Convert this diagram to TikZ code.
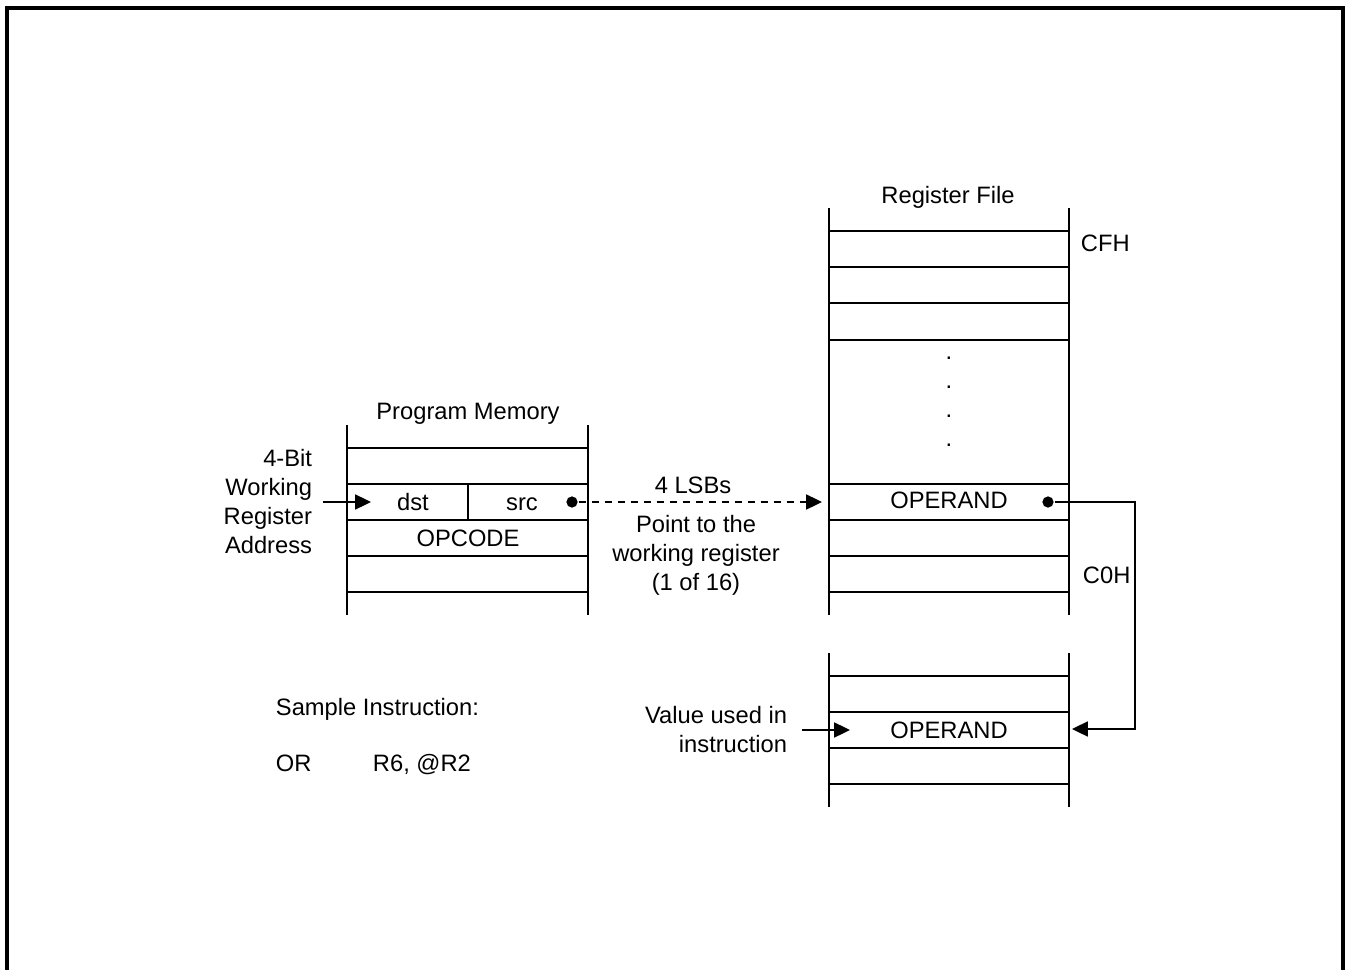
\documentclass[tikz,border=0pt]{standalone}
\usepackage{fontspec}
\setmainfont{Liberation Sans}
\usetikzlibrary{arrows.meta}

\begin{document}
\begin{tikzpicture}[
    x=0.02cm, y=-0.02cm,
    line width=1.1pt,
    lbl/.style={
        inner sep=0pt,
        text height=9.7pt,
        text depth=0pt,
        font=\fontsize{13.5}{16.5}\selectfont
    },
    arrow/.style={-{Triangle[length=9pt,width=8.5pt]}},
    dot/.style={circle, fill, inner sep=0pt, minimum size=6.4pt}
]
\useasboundingbox (0,0) rectangle (1350,970);
\draw[line width=2.2pt] (7,970) |- (1343,8) -- (1343,970);

% program memory
\draw (347,425) -- (347,615) (588,425) -- (588,615);
\foreach \y in {448,484,520,556,592} \draw (347,\y) -- (588,\y);
\draw (468,484) -- (468,520);
\node[lbl] (pm) at (468,411) {Program Memory};
\node[lbl] (dst) at (413,502) {dst};
\node[lbl] (src) at (522,502) {src};
\node[lbl] (opc) at (468,538) {OPCODE};
\node[lbl, align=right, anchor=east] (wra) at (313,545) {4-Bit\\Working\\Register\\Address};
\node[dot] (srcdot) at (572,502) {};
\coordinate (wrin) at (323,502);
\coordinate (dstin) at (371,502);

% register file
\draw (829,208) -- (829,615) (1069,208) -- (1069,615);
\foreach \y in {231,267,303,340,484,520,556,592} \draw (829,\y) -- (1069,\y);
\foreach \y in {359.5,388.5,417.5,446.5} \node[lbl, anchor=base] at (949,\y) {.};
\node[lbl] (rf) at (948,195) {Register File};
\node[lbl, anchor=west] (cfh) at (1080,243) {CFH};
\node[lbl, anchor=west] (c0h) at (1082,575) {C0H};
\node[lbl] (opr) at (949,500) {OPERAND};
\node[dot] (opdot) at (1048,502) {};
\coordinate (rfin) at (822,502);
\coordinate (turn) at (1135,729);

% working value
\draw (829,653) -- (829,807) (1069,653) -- (1069,807);
\foreach \y in {676,712,748,784} \draw (829,\y) -- (1069,\y);
\node[lbl] (val) at (949,730) {OPERAND};
\node[lbl, align=right, anchor=east] (vui) at (788,744) {Value used in\\instruction};
\coordinate (vin) at (802,730);
\coordinate (vtip) at (850,730);
\coordinate (optip) at (1072,729);

\node[lbl] (lsb) at (693,485) {4 LSBs};
\node[lbl, align=center] (pt) at (696,582) {Point to the\\working register\\(1 of 16)};

\node[lbl, anchor=west] (si) at (275,707) {Sample Instruction:};
\node[lbl, anchor=west] (or) at (275,763) {OR};
\node[lbl, anchor=west] (ops) at (372,763) {R6, @R2};

\draw[arrow] (wrin) -- (dstin);
\draw[arrow, dash pattern=on 4pt off 3.4pt] (srcdot) -- (rfin);
\draw[arrow] (opdot) -| (turn) -- (optip);
\draw[arrow] (vin) -- (vtip);

\end{tikzpicture}
\end{document}
